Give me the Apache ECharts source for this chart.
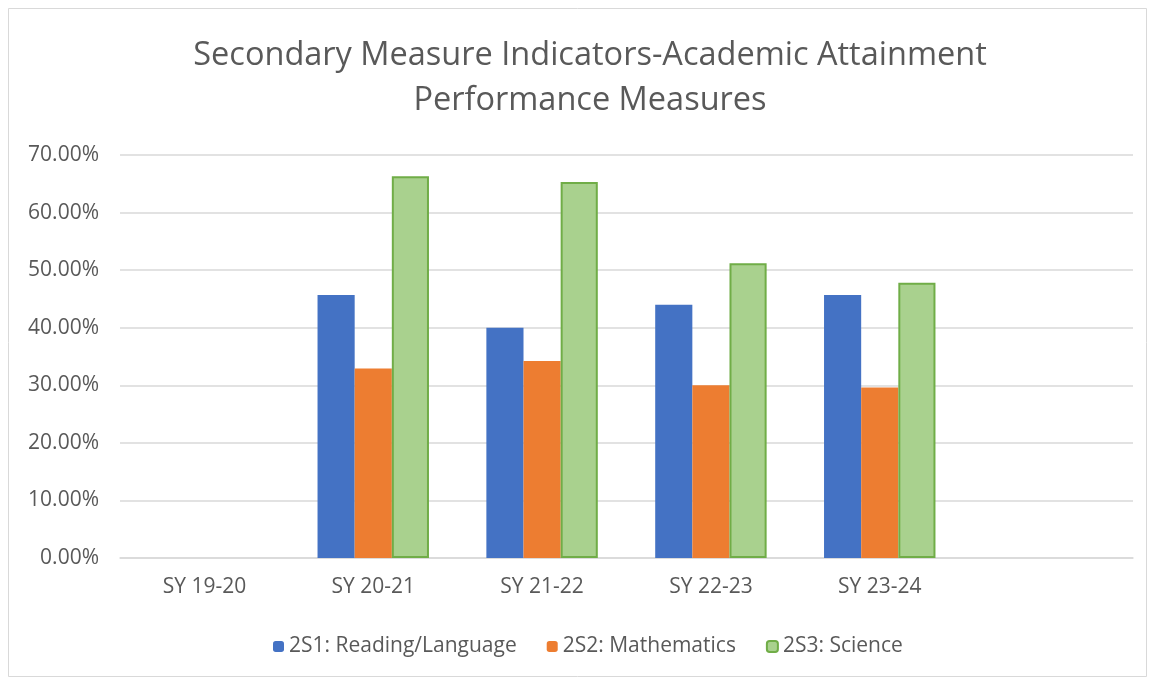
<!DOCTYPE html>
<html><head><meta charset="utf-8">
<script src="https://cdn.jsdelivr.net/npm/echarts@6/dist/echarts.min.js"></script>
<style>html,body{margin:0;padding:0;background:#fff}#c{width:1149px;height:679px}</style>
</head><body><div id="c"></div>
<script>
var categories = ['SY 19-20', 'SY 20-21', 'SY 21-22', 'SY 22-23', 'SY 23-24', ''];
var reading = [null, 0.457, 0.400, 0.440, 0.457, null];
var math = [null, 0.329, 0.342, 0.300, 0.296, null];
var science = [null, 0.663, 0.653, 0.512, 0.478, null];
var seriesNames = ['2S1: Reading/Language', '2S2: Mathematics', '2S3: Science'];
var yTicks = {min: 0, max: 0.7, interval: 0.1};

var font = '"Open Sans", "Noto Sans", sans-serif';
var chart = echarts.init(document.getElementById('c'), null, {renderer: 'canvas'});
chart.setOption({
  animation: false,
  backgroundColor: '#fff',
  graphic: [{type: 'rect', shape: {x: 8.5, y: 8.5, width: 1138, height: 668}, style: {fill: 'none', stroke: '#d9d9d9', lineWidth: 1}, silent: true}],
  title: {
    text: 'Secondary Measure Indicators-Academic Attainment\nPerformance Measures',
    left: 585, textAlign: 'center', top: 28,
    textStyle: {fontFamily: font, fontSize: 32.5, fontWeight: 'normal', color: '#595959', lineHeight: 45}
  },
  legend: {
    top: 631, left: 268, itemWidth: 11, itemHeight: 11, itemGap: 30,
    textStyle: {fontFamily: font, fontSize: 21, color: '#595959'},
    data: seriesNames
  },
  grid: {left: 120, right: 16, top: 155, bottom: 121, containLabel: false},
  xAxis: {
    type: 'category', data: categories,
    axisLine: {lineStyle: {color: '#d9d9d9', width: 1.5}},
    axisTick: {show: false},
    axisLabel: {fontFamily: font, fontSize: 21, color: '#595959', margin: 19}
  },
  yAxis: {
    type: 'value', min: yTicks.min, max: yTicks.max, interval: yTicks.interval,
    axisLine: {show: false}, axisTick: {show: false},
    splitLine: {lineStyle: {color: '#d9d9d9', width: 1.5}},
    axisLabel: {fontFamily: font, fontSize: 21, color: '#595959', margin: 21,
      formatter: function (v) { return (v * 100).toFixed(2) + '%'; }}
  },
  series: [
    {name: seriesNames[0], type: 'bar', data: reading, barGap: '0%', barCategoryGap: '34%',
      itemStyle: {color: '#4472C4'}},
    {name: seriesNames[1], type: 'bar', data: math, barGap: '0%', barCategoryGap: '34%',
      itemStyle: {color: '#ED7D31'}},
    {name: seriesNames[2], type: 'bar', data: science, barGap: '0%', barCategoryGap: '34%',
      itemStyle: {color: '#A9D18E', borderColor: '#70AD47', borderWidth: 2}}
  ]
});
</script></body></html>
